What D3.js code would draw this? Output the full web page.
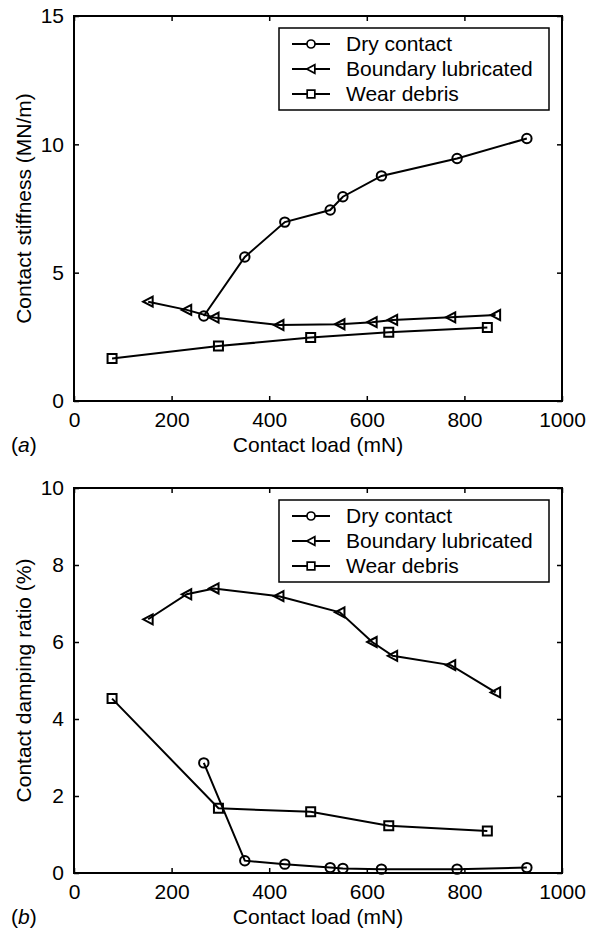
<!DOCTYPE html>
<html>
<head>
<meta charset="utf-8">
<script src="https://cdn.jsdelivr.net/npm/d3@7"></script>
<style>
  body { margin: 0; background: #fff; }
  svg text { font-family: 'Liberation Sans', Arial, sans-serif; fill: #000; }
</style>
</head>
<body>
<div id="chart"></div>
<script>
// values
const loadTicks = [0, 200, 400, 600, 800, 1000]
const stiffnessTicks = [0, 5, 10, 15]
const dampingTicks = [0, 2, 4, 6, 8, 10]

const dryLoad = [266, 350, 432, 525, 551, 630, 785, 928]
const dryStiffness = [3.31, 5.61, 6.97, 7.44, 7.96, 8.77, 9.45, 10.23]
const dryDamping = [2.86, 0.32, 0.23, 0.14, 0.12, 0.10, 0.10, 0.14]

const boundaryLoad = [152, 231, 287, 420, 545, 611, 653, 772, 864]
const boundaryStiffness = [3.87, 3.55, 3.25, 2.96, 2.99, 3.07, 3.16, 3.26, 3.35]
const boundaryDamping = [6.59, 7.24, 7.39, 7.19, 6.77, 6.0, 5.64, 5.40, 4.69]

const debrisLoad = [78, 296, 485, 645, 847]
const debrisStiffness = [1.66, 2.14, 2.47, 2.68, 2.86]
const debrisDamping = [4.53, 1.68, 1.59, 1.23, 1.09]

const seriesNames = ['Dry contact', 'Boundary lubricated', 'Wear debris']
const markerTypes = ['circle', 'triangle', 'square']

const width = 591
const height = 930
const margin = { left: 74, right: 29 }
const plotH = 385

const svg = d3.select('#chart')
  .append('svg')
  .attr('width', width)
  .attr('height', height)

function markerPath (type) {
  if (type === 'circle') return d3.symbol(d3.symbolCircle, 70)()
  if (type === 'square') return 'M-4.5,-4.5H4.5V4.5H-4.5Z'
  return 'M-5,0L4.5,-5L4.5,5Z'
}

function drawPanel (top, panelLabel, yLabel, yMax, yTicks, series) {
  const x = d3.scaleLinear().domain([0, 1000]).range([margin.left, width - margin.right])
  const y = d3.scaleLinear().domain([0, yMax]).range([top + plotH, top])
  const g = svg.append('g')

  // axes with inward ticks
  g.append('g')
    .attr('transform', `translate(0,${top + plotH})`)
    .call(d3.axisBottom(x).tickValues(loadTicks).tickFormat(d3.format('d')).tickSizeInner(-5).tickSizeOuter(0).tickPadding(11))
  g.append('g')
    .attr('transform', `translate(0,${top})`)
    .call(d3.axisTop(x).tickValues(loadTicks).tickSizeInner(-5).tickSizeOuter(0).tickFormat(''))
  g.append('g')
    .attr('transform', `translate(${margin.left},0)`)
    .call(d3.axisLeft(y).tickValues(yTicks).tickFormat(d3.format('d')).tickSizeInner(-5).tickSizeOuter(0).tickPadding(10))
  g.append('g')
    .attr('transform', `translate(${width - margin.right},0)`)
    .call(d3.axisRight(y).tickValues(yTicks).tickSizeInner(-5).tickSizeOuter(0).tickFormat(''))

  g.selectAll('.domain').remove()
  g.selectAll('.tick line').attr('stroke', '#000').attr('stroke-width', 1.5)
  g.selectAll('.tick text').attr('font-size', 21).attr('font-family', "'Liberation Sans', Arial, sans-serif")

  g.append('rect')
    .attr('x', margin.left)
    .attr('y', top)
    .attr('width', width - margin.right - margin.left)
    .attr('height', plotH)
    .attr('fill', 'none')
    .attr('stroke', '#000')
    .attr('stroke-width', 2)

  // series
  const line = d3.line().x(d => x(d[0])).y(d => y(d[1]))
  series.forEach((s, i) => {
    const pts = d3.zip(s.load, s.values)
    g.append('path')
      .datum(pts)
      .attr('d', line)
      .attr('fill', 'none')
      .attr('stroke', '#000')
      .attr('stroke-width', 2)
    g.selectAll(null)
      .data(pts)
      .enter().append('path')
      .attr('d', markerPath(markerTypes[i]))
      .attr('transform', d => `translate(${x(d[0])},${y(d[1])})`)
      .attr('fill', 'none')
      .attr('stroke', '#000')
      .attr('stroke-width', 2)
  })

  // legend
  const lg = g.append('g').attr('transform', `translate(279,${top + 12})`)
  lg.append('rect')
    .attr('width', 270)
    .attr('height', 82)
    .attr('fill', '#fff')
    .attr('stroke', '#000')
    .attr('stroke-width', 1.5)
  seriesNames.forEach((name, i) => {
    const ry = 16 + i * 25
    lg.append('line')
      .attr('x1', 13).attr('x2', 51).attr('y1', ry).attr('y2', ry)
      .attr('stroke', '#000').attr('stroke-width', 2)
    lg.append('path')
      .attr('d', markerPath(markerTypes[i]))
      .attr('transform', `translate(32,${ry}) scale(0.85)`)
      .attr('fill', '#fff')
      .attr('stroke', '#000')
      .attr('stroke-width', 2)
    lg.append('text')
      .attr('x', 67)
      .attr('y', ry)
      .attr('dy', '0.35em')
      .attr('font-size', 21)
      .text(name)
  })

  // labels
  g.append('text')
    .attr('x', (margin.left + width - margin.right) / 2)
    .attr('y', top + plotH + 51)
    .attr('text-anchor', 'middle')
    .attr('font-size', 21)
    .text('Contact load (mN)')
  g.append('text')
    .attr('transform', `translate(31,${top + plotH / 2}) rotate(-90)`)
    .attr('text-anchor', 'middle')
    .attr('font-size', 21)
    .text(yLabel)
  const pl = g.append('text')
    .attr('x', 11)
    .attr('y', top + plotH + 51)
    .attr('font-size', 21)
  pl.append('tspan').text('(')
  pl.append('tspan').attr('font-style', 'italic').text(panelLabel)
  pl.append('tspan').text(')')
}

drawPanel(16, 'a', 'Contact stiffness (MN/m)', 15, stiffnessTicks, [
  { load: dryLoad, values: dryStiffness },
  { load: boundaryLoad, values: boundaryStiffness },
  { load: debrisLoad, values: debrisStiffness }
])

drawPanel(488, 'b', 'Contact damping ratio (%)', 10, dampingTicks, [
  { load: dryLoad, values: dryDamping },
  { load: boundaryLoad, values: boundaryDamping },
  { load: debrisLoad, values: debrisDamping }
])
</script>
</body>
</html>
